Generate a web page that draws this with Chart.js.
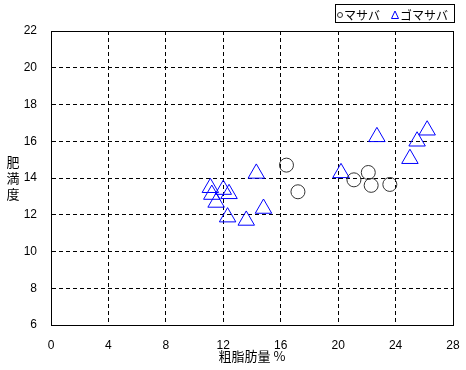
<!DOCTYPE html>
<html lang="ja">
<head>
  <meta charset="utf-8">
  <title>肥満度と粗脂肪量</title>
  <script src="https://cdn.jsdelivr.net/npm/chart.js@4.4.1/dist/chart.umd.min.js"></script>
  <style>
    html, body { margin: 0; padding: 0; background: #fff; }
  </style>
</head>
<body>
<canvas id="scatterChart" width="466" height="370"></canvas>
<script>
// マサバ
var masabaX = [16.4, 17.2, 21.1, 22.1, 22.3, 23.6];
var masabaY = [14.7, 13.25, 13.9, 14.3, 13.6, 13.65];
// ゴマサバ
var gomaX = [11.1, 12.0, 12.4, 11.2, 11.5, 12.3, 13.6, 14.8, 14.3, 20.2, 22.7, 25.0, 25.5, 26.2];
var gomaY = [13.47, 13.37, 13.14, 13.1, 12.67, 11.87, 11.69, 12.34, 14.25, 14.28, 16.24, 15.05, 16.0, 16.6];

var xTicks = [0, 4, 8, 12, 16, 20, 24, 28];
var yTicks = [6, 8, 10, 12, 14, 16, 18, 20, 22];
var seriesNames = ['マサバ', 'ゴマサバ'];
var xTitle = '粗脂肪量 %';
var yTitle = ['肥', '満', '度'];

var FONT = '"Liberation Sans", "Noto Sans CJK JP", sans-serif';
var JPFONT = '"Noto Sans CJK JP", "Liberation Sans", sans-serif';

function toPoints(xs, ys) {
  var pts = [];
  for (let i = 0; i < xs.length; i++) {
    pts.push({x: xs[i], y: ys[i]});
  }
  return pts;
}

// solid frame round the plot area
var frame = {
  id: 'frame',
  afterDraw: function(chart) {
    var a = chart.chartArea, ctx = chart.ctx;
    ctx.save();
    ctx.strokeStyle = '#000';
    ctx.lineWidth = 1;
    ctx.setLineDash([]);
    ctx.strokeRect(Math.round(a.left) + 0.5, Math.round(a.top) + 0.5,
      Math.round(a.right - a.left), Math.round(a.bottom - a.top));
    ctx.restore();
  }
};

// vertical y title and boxed legend
var labels = {
  id: 'labels',
  afterDraw: function(chart) {
    var a = chart.chartArea, ctx = chart.ctx;
    ctx.save();
    ctx.fillStyle = '#000';
    ctx.font = '13px ' + JPFONT;
    ctx.textAlign = 'center';
    ctx.textBaseline = 'middle';
    var mid = (a.top + a.bottom) / 2;
    for (let i = 0; i < yTitle.length; i++) {
      ctx.fillText(yTitle[i], 13, mid + (i - 1) * 16);
    }

    // legend
    ctx.strokeStyle = '#000';
    ctx.lineWidth = 1;
    ctx.strokeRect(335.5, 4.5, 119, 18);
    ctx.font = '12px ' + JPFONT;
    ctx.textAlign = 'left';
    var ds = chart.data.datasets;
    var ly = 15;
    // circle
    ctx.strokeStyle = ds[0].borderColor;
    ctx.beginPath();
    ctx.arc(340, ly, 2.5, 0, Math.PI * 2);
    ctx.stroke();
    ctx.fillText(ds[0].label, 344, ly);
    // triangle
    ctx.strokeStyle = ds[1].borderColor;
    ctx.beginPath();
    ctx.moveTo(395, ly - 4);
    ctx.lineTo(398.5, ly + 3.5);
    ctx.lineTo(391.5, ly + 3.5);
    ctx.closePath();
    ctx.stroke();
    ctx.fillText(ds[1].label, 400, ly);
    ctx.restore();
  }
};

var ctx = document.getElementById('scatterChart').getContext('2d');
var chart = new Chart(ctx, {
  type: 'scatter',
  data: {
    datasets: [{
      label: seriesNames[0],
      data: toPoints(masabaX, masabaY),
      pointStyle: 'circle',
      pointRadius: 7,
      borderColor: '#333333',
      backgroundColor: 'rgba(0,0,0,0)',
      borderWidth: 1
    }, {
      label: seriesNames[1],
      data: toPoints(gomaX, gomaY),
      pointStyle: 'triangle',
      pointRadius: 9.5,
      borderColor: '#0000ff',
      backgroundColor: 'rgba(0,0,0,0)',
      borderWidth: 1
    }]
  },
  options: {
    responsive: false,
    animation: false,
    layout: { padding: { top: 31, right: 13, left: 0, bottom: 0 } },
    plugins: {
      legend: { display: false },
      tooltip: { enabled: false }
    },
    scales: {
      x: {
        type: 'linear',
        min: 0, max: 28,
        afterFit: function(scale) {
          scale.height = 45;
          scale.paddingLeft = 0;
          scale.paddingRight = 0;
        },
        afterBuildTicks: function(scale) {
          scale.ticks = xTicks.map(function(v) { return {value: v}; });
        },
        grid: { color: '#000', lineWidth: 1, drawTicks: false },
        border: { display: true, color: '#000', width: 1, dash: [4, 3] },
        ticks: { color: '#000', padding: 13, font: { family: FONT, size: 12 } },
        title: {
          display: true, text: xTitle, color: '#000',
          font: { family: JPFONT, size: 13 },
          padding: { top: 0, bottom: 6 }
        }
      },
      y: {
        type: 'linear',
        min: 6, max: 22,
        afterFit: function(scale) {
          scale.width = 51;
          scale.paddingTop = 0;
          scale.paddingBottom = 0;
        },
        afterBuildTicks: function(scale) {
          scale.ticks = yTicks.map(function(v) { return {value: v}; });
        },
        grid: { color: '#000', lineWidth: 1, drawTicks: false },
        border: { display: true, color: '#000', width: 1, dash: [4, 3] },
        ticks: { color: '#000', padding: 14, font: { family: FONT, size: 12 } }
      }
    }
  },
  plugins: [frame, labels]
});
</script>
</body>
</html>
